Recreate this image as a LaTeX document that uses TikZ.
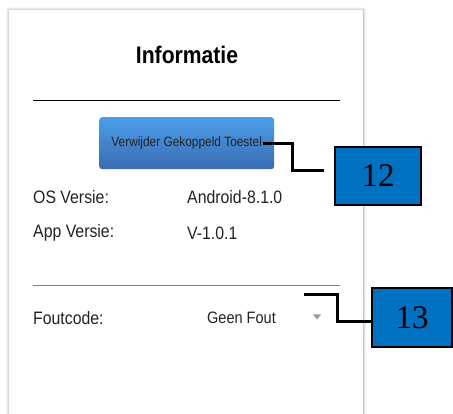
\documentclass[tikz,border=0pt]{standalone}
\usepackage{fontspec}
\setmainfont{Liberation Sans}[FakeStretch=0.88]
\newfontfamily\calloutfont{Liberation Serif}
\usetikzlibrary{shadows.blur}
\definecolor{btntop}{HTML}{4C9EEA}
\definecolor{btnbot}{HTML}{3A6CB0}
\definecolor{calloutblue}{HTML}{0070C0}
\definecolor{labelgray}{HTML}{222222}

\begin{document}
\begin{tikzpicture}[x=1pt,y=-1pt,
    label/.style={anchor=west, inner sep=0pt, text=labelgray, font=\fontsize{18}{20}\selectfont},
    callout/.style={draw=black, line width=1.8pt, fill=calloutblue, inner sep=0pt, font=\calloutfont\fontsize{33}{36}\selectfont},
    leader/.style={line width=3pt}]
    \useasboundingbox (0,0) rectangle (453,414);
    % Card
    \node[fill=white, anchor=north west, minimum width=354pt, minimum height=430pt, inner sep=0pt,
        blur shadow={shadow xshift=0pt, shadow yshift=0pt, shadow blur radius=3pt, shadow opacity=45}] (card) at (9,10) {};
    \node[font=\bfseries\fontsize{24}{27}\selectfont, text=black] (title) at (187,55) {Informatie};
    \draw[line width=0.9pt] (33,100) -- (340,100);
    % Button
    \node[anchor=north west, minimum width=175pt, minimum height=52pt, inner sep=0pt, rounded corners=3pt,
        top color=btntop, bottom color=btnbot, text=labelgray, font=\fontsize{13.5}{15}\selectfont] (btn) at (99,117) {Verwijder Gekoppeld Toestel};
    % Info rows
    \foreach \name/\val/\i/\y in {OS Versie:/Android-8.1.0/1/197, App Versie:/V-1.0.1/2/233} {
        \node[label] (Key-\i) at (33,\y) {\name};
        \node[label] (Val-\i) at (187,\y) {\val};
    }
    \draw[line width=0.9pt, gray] (33,285) -- (340,285);
    % Foutcode row
    \node[label] (Key-3) at (33,318) {Foutcode:};
    \node[label, font=\fontsize{16.5}{18}\selectfont] (Val-3) at (207,318) {Geen Fout};
    \fill[gray!80] (313,314.5) -- (321,314.5) -- (317,319.5) -- cycle;
    % Callouts
    \node[callout, minimum width=86pt, minimum height=58pt] (box12) at (378,176) {12};
    \node[callout, minimum width=80pt, minimum height=59pt] (box13) at (412,317.5) {13};
    \coordinate (p12) at (263,144);
    \coordinate (bend12) at (292,171);
    \coordinate (p13) at (304,295);
    \coordinate (bend13) at (337,322);
    \draw[leader] (p12) -| (bend12) -- ([xshift=-10pt]box12.west |- bend12);
    \draw[leader] (p13) -| (bend13) -- (box13.west |- bend13);
\end{tikzpicture}
\end{document}
